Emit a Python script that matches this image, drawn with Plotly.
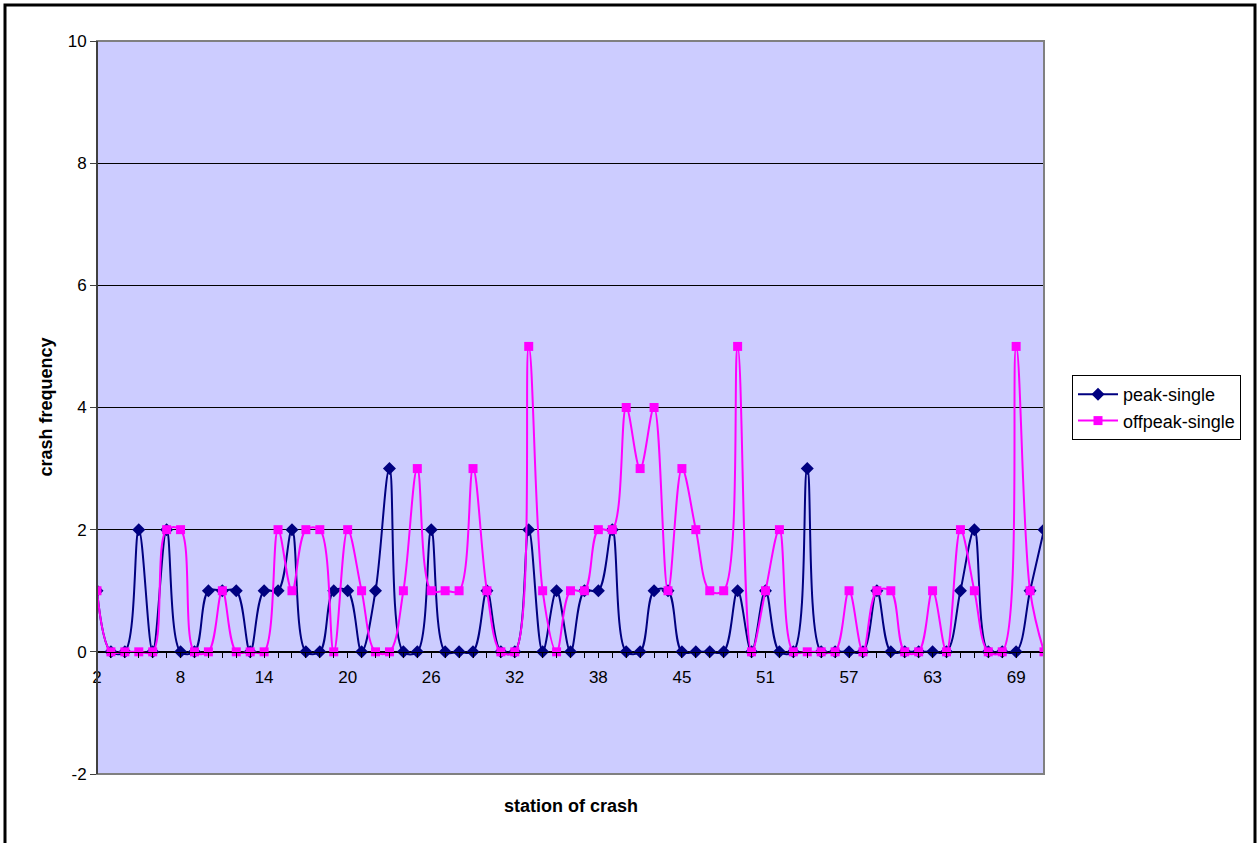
import plotly.graph_objects as go

# Station labels along the category axis (one station number has no record)
stations = [str(s) for s in range(2, 39)] + ["39", "40", "41", "43", "44"] + [str(s) for s in range(45, 72)]

peak_single = [1, 0, 0, 2, 0, 2, 0, 0, 1, 1, 1, 0, 1, 1, 2, 0, 0, 1, 1, 0,
               1, 3, 0, 0, 2, 0, 0, 0, 1, 0, 0, 2, 0, 1, 0, 1, 1, 2, 0, 0,
               1, 1, 0, 0, 0, 0, 1, 0, 1, 0, 0, 3, 0, 0, 0, 0, 1, 0, 0, 0,
               0, 0, 1, 2, 0, 0, 0, 1, 2]

offpeak_single = [1, 0, 0, 0, 0, 2, 2, 0, 0, 1, 0, 0, 0, 2, 1, 2, 2, 0, 2, 1,
                  0, 0, 1, 3, 1, 1, 1, 3, 1, 0, 0, 5, 1, 0, 1, 1, 2, 2, 4, 3,
                  4, 1, 3, 2, 1, 1, 5, 0, 1, 2, 0, 0, 0, 0, 1, 0, 1, 1, 0, 0,
                  1, 0, 2, 1, 0, 0, 5, 1, 0]

y_ticks = [-2, 0, 2, 4, 6, 8, 10]
y_tick_text = ["-2", "0", "2", "4", "6", "8", "10"]
label_step = 6

positions = list(range(len(stations)))

W, H = 1259, 843
M_LEFT, M_RIGHT, M_TOP, M_BOTTOM = 97, 215, 41, 69
plot_w = W - M_LEFT - M_RIGHT
plot_h = H - M_TOP - M_BOTTOM
y_min, y_max = y_ticks[0], y_ticks[-1]

FONT = "Liberation Sans, Arial, sans-serif"
TICK_SIZE = 17
TEXT_SIZE = 18

fig = go.Figure()
fig.add_trace(go.Scatter(
    x=positions, y=peak_single, name="peak-single",
    mode="lines+markers",
    line=dict(color="#000080", width=2, shape="spline", smoothing=1),
    marker=dict(symbol="diamond", size=10, color="#000080"),
))
fig.add_trace(go.Scatter(
    x=positions, y=offpeak_single, name="offpeak-single",
    mode="lines+markers",
    line=dict(color="#FF00FF", width=2, shape="spline", smoothing=1),
    marker=dict(symbol="square", size=9, color="#FF00FF"),
))

tick_pos = positions[::label_step]
tick_lab = stations[::label_step]

fig.update_layout(
    width=W, height=H,
    margin=dict(l=M_LEFT, r=M_RIGHT, t=M_TOP, b=M_BOTTOM, pad=0),
    paper_bgcolor="white",
    plot_bgcolor="#CCCCFF",
    font=dict(family=FONT, size=TICK_SIZE, color="black"),
    showlegend=True,
    legend=dict(
        x=(1072 - M_LEFT) / plot_w, xanchor="left",
        y=0.5, yanchor="middle",
        bordercolor="black", borderwidth=1, bgcolor="white",
        font=dict(family=FONT, size=TEXT_SIZE, color="black"),
        tracegroupgap=0, itemwidth=40,
    ),
    xaxis=dict(
        range=[positions[0], positions[-1]],
        anchor="free",
        position=(0 - y_min) / (y_max - y_min),
        showline=True, linecolor="black", linewidth=1,
        showgrid=False, zeroline=False,
        tickmode="array", tickvals=tick_pos, ticktext=tick_lab,
        ticks="outside", ticklen=5, tickcolor="black", tickwidth=1,
        ticklabelstandoff=5,
        minor=dict(tickmode="linear", tick0=0, dtick=1, ticks="outside",
                   ticklen=5, tickcolor="black", tickwidth=1, showgrid=False),
        tickfont=dict(family=FONT, size=TICK_SIZE, color="black"),
    ),
    yaxis=dict(
        range=[y_min, y_max],
        tickmode="array", tickvals=y_ticks, ticktext=y_tick_text,
        showgrid=True, gridcolor="black", gridwidth=1,
        zeroline=False,
        showline=False,
        ticks="outside", ticklen=6, tickcolor="#404040", tickwidth=1,
        tickfont=dict(family=FONT, size=TICK_SIZE, color="black"),
    ),
)

# Axis titles
fig.add_annotation(text="<b>station of crash</b>", xref="paper", yref="paper",
                   x=0.5, y=-(806 - (M_TOP + plot_h)) / plot_h,
                   showarrow=False, xanchor="center", yanchor="middle",
                   font=dict(family=FONT, size=TEXT_SIZE, color="black"))
fig.add_annotation(text="<b>crash frequency</b>", xref="paper", yref="paper",
                   x=-(M_LEFT - 45) / plot_w, y=0.5, textangle=-90,
                   showarrow=False, xanchor="center", yanchor="middle",
                   font=dict(family=FONT, size=TEXT_SIZE, color="black"))

# Plot-area frame
fig.add_shape(type="rect", xref="paper", yref="paper", x0=0, x1=1, y0=0, y1=1,
              line=dict(color="#808080", width=2), layer="above")
# Left axis line
fig.add_shape(type="line", xref="paper", yref="paper", x0=0, x1=0, y0=0, y1=1,
              line=dict(color="#404040", width=2), layer="above")
# Outer chart frame
fig.add_shape(type="rect", xref="paper", yref="paper",
              x0=-(M_LEFT - 5) / plot_w, x1=(W - 4 - M_LEFT) / plot_w,
              y0=-(M_BOTTOM + 5) / plot_h, y1=(M_TOP - 5) / plot_h + 1,
              line=dict(color="black", width=3), layer="above")

fig.write_html("out.html")
